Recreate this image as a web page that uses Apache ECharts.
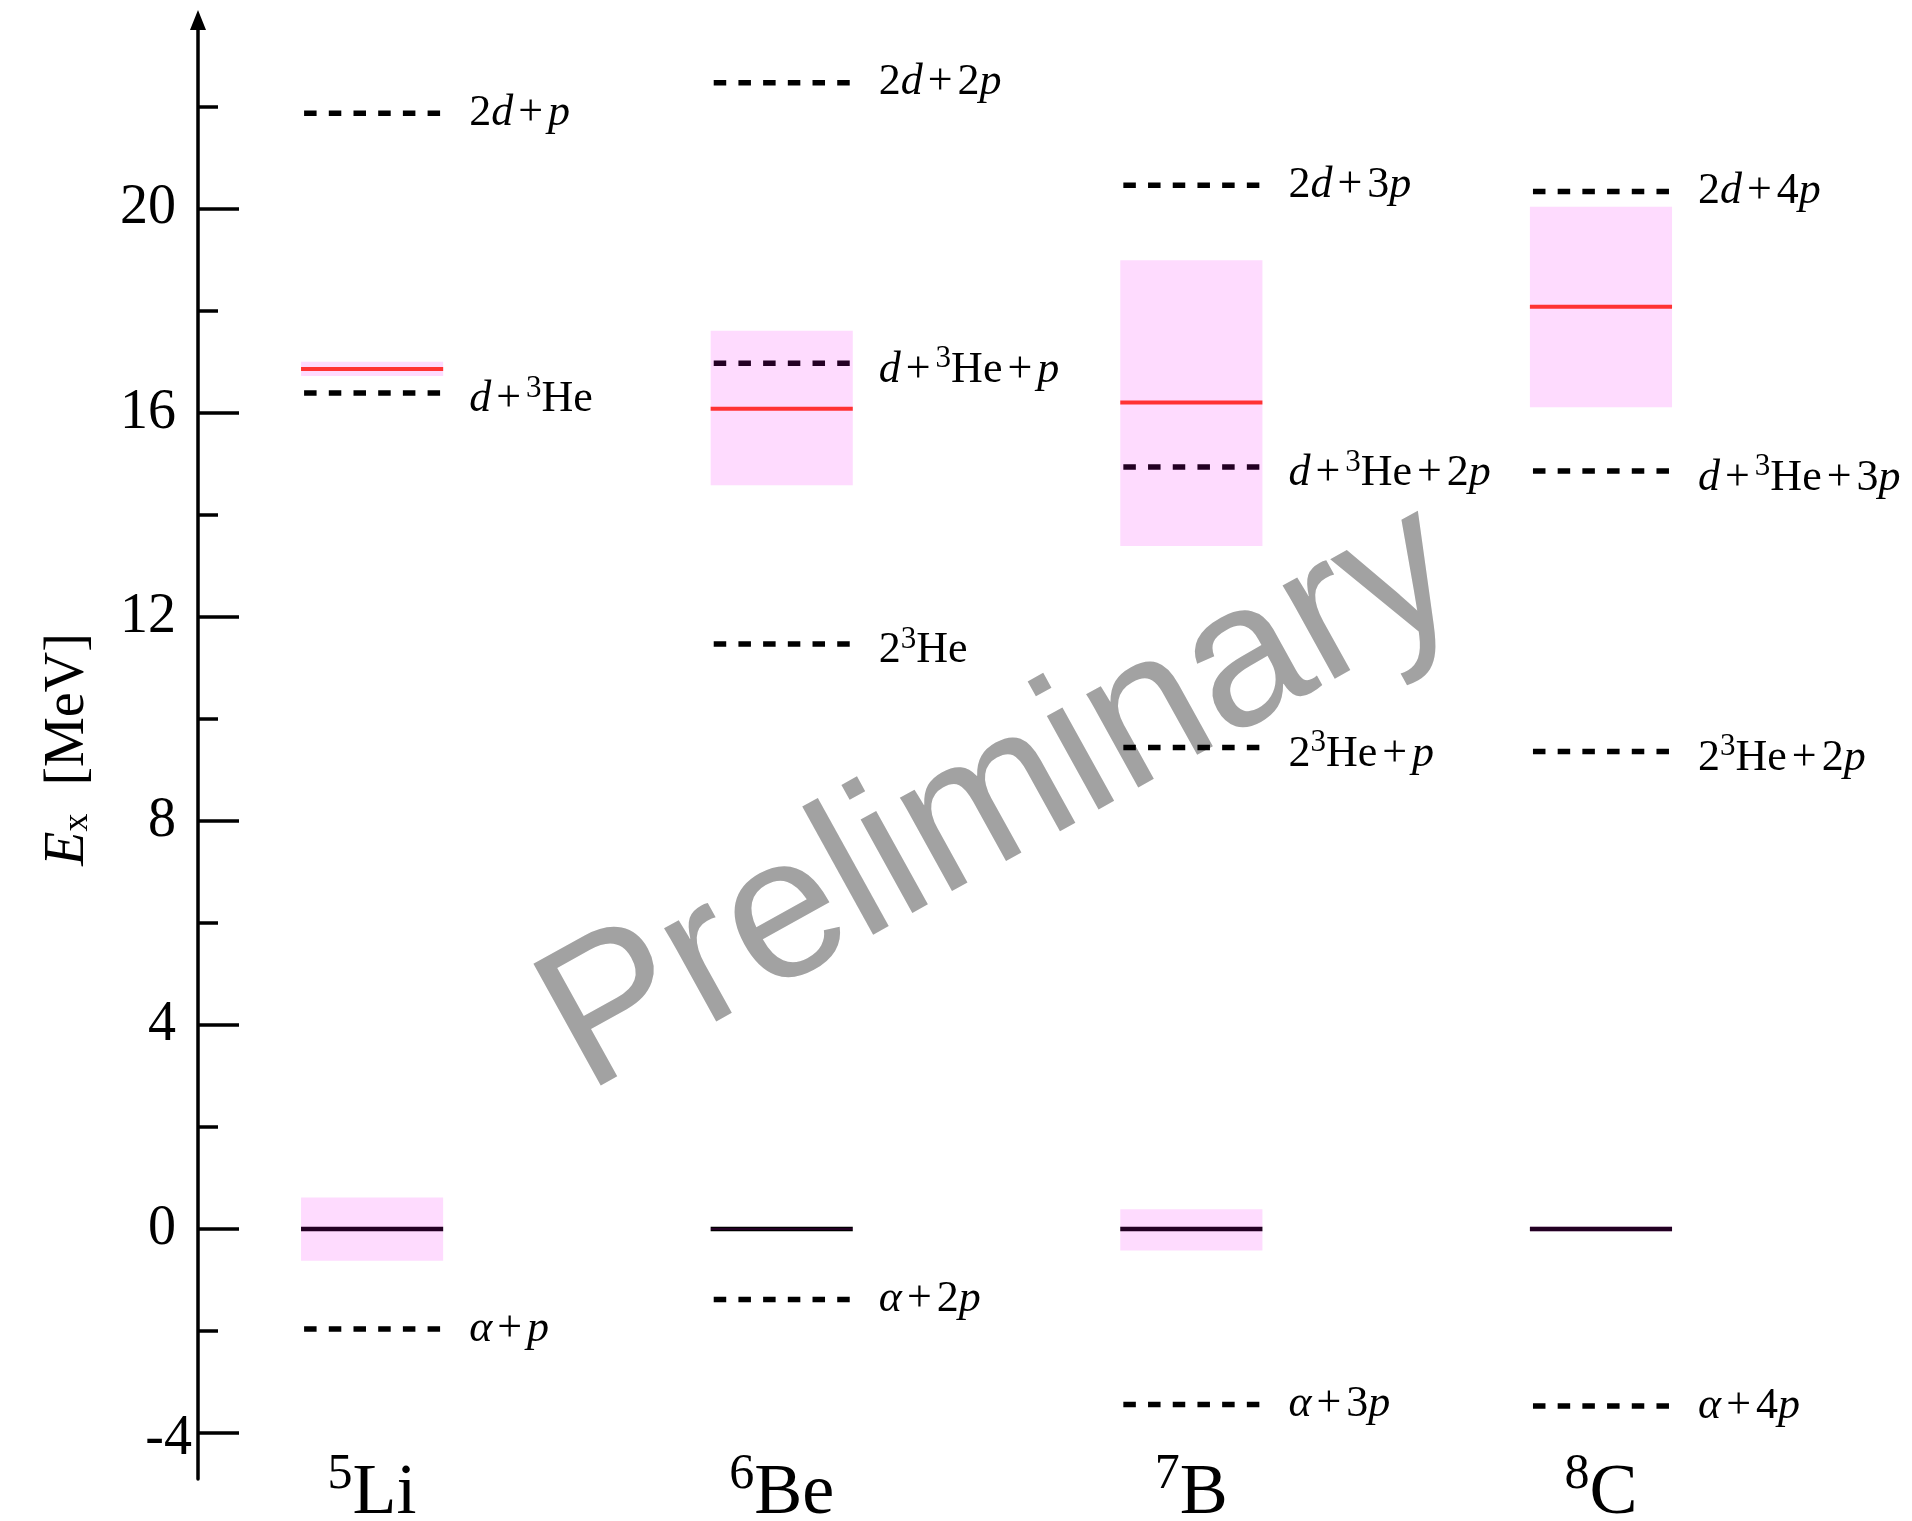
<!DOCTYPE html>
<html>
<head>
<meta charset="utf-8">
<title>Excitation energies of proton-rich nuclei</title>
<script src="https://cdn.jsdelivr.net/npm/echarts@6/dist/echarts.min.js"></script>
<style>
  html, body { margin: 0; padding: 0; background: #ffffff; }
  #chart { width: 1912px; height: 1521px; }
</style>
</head>
<body>
<div id="chart"></div>
<script>
// ---- data -------------------------------------------------------------
const nucleusPosition = [1, 2, 3, 4];
const nucleusMass = ['5', '6', '7', '8'];
const nucleusSymbol = ['Li', 'Be', 'B', 'C'];

// ground states (MeV) with uncertainty band
const groundEnergy = [0, 0, 0, 0];
const groundBandLow = [-0.62, -0.02, -0.42, -0.05];
const groundBandHigh = [0.62, 0.02, 0.39, 0.05];

// excited states (MeV) with uncertainty band
const excitedEnergy = [16.86, 16.08, 16.20, 18.08];
const excitedBandLow = [16.72, 14.58, 13.39, 16.11];
const excitedBandHigh = [17.00, 17.61, 18.99, 20.04];

// breakup thresholds (MeV)
const thresholdNucleus = [1, 1, 1, 2, 2, 2, 2, 3, 3, 3, 3, 4, 4, 4, 4];
const thresholdEnergy = [
  -1.96, 16.39, 21.87,
  -1.38, 11.47, 16.97, 22.47,
  -3.44, 9.44, 14.94, 20.46,
  -3.47, 9.36, 14.86, 20.34
];
const thresholdLabel = [
  '{i|α}{o|+}{i|p}', '{i|d}{o|+}{s|3}{r|He}', '{r|2}{i|d}{o|+}{i|p}',
  '{i|α}{o|+}{r|2}{i|p}', '{r|2}{s|3}{r|He}', '{i|d}{o|+}{s|3}{r|He}{o|+}{i|p}', '{r|2}{i|d}{o|+}{r|2}{i|p}',
  '{i|α}{o|+}{r|3}{i|p}', '{r|2}{s|3}{r|He}{o|+}{i|p}', '{i|d}{o|+}{s|3}{r|He}{o|+}{r|2}{i|p}', '{r|2}{i|d}{o|+}{r|3}{i|p}',
  '{i|α}{o|+}{r|4}{i|p}', '{r|2}{s|3}{r|He}{o|+}{r|2}{i|p}', '{i|d}{o|+}{s|3}{r|He}{o|+}{r|3}{i|p}', '{r|2}{i|d}{o|+}{r|4}{i|p}'
];

// axis ticks
const majorTickValues = [-4, 0, 4, 8, 12, 16, 20];
const majorTickLabels = [0, 4, 8, 12, 16, 20];
const minorTickValues = [-2, 2, 6, 10, 14, 18, 22];
const offsetTickLabels = [-4];

// ---- styling ----------------------------------------------------------
const SERIF = "'Liberation Serif', 'DejaVu Serif', serif";
const LEVEL_HALF = 0.1735;   // half width of a level, x-axis units
const DASH_HALF = 0.166;     // half width of a threshold line
const LABEL_GAP = 26;        // px between a level and its label
const BAND_FILL = 'rgba(250, 0, 250, 0.14)';

const labelRich = {
  i: { fontFamily: SERIF, fontStyle: 'italic', fontSize: 44, fill: '#000', verticalAlign: 'bottom' },
  r: { fontFamily: SERIF, fontSize: 44, fill: '#000', verticalAlign: 'bottom' },
  o: { fontFamily: SERIF, fontSize: 44, fill: '#000', verticalAlign: 'bottom', padding: [0, 5, 0, 5] },
  s: { fontFamily: SERIF, fontSize: 31, fill: '#000', verticalAlign: 'top', padding: [9, 0, 18, 0] }
};

const thresholdData = thresholdEnergy.map((e, k) => [thresholdNucleus[k], e]);
const groundData = nucleusPosition.map((x, k) => [x, groundEnergy[k]]);
const excitedData = nucleusPosition.map((x, k) => [x, excitedEnergy[k]]);
const bandData = nucleusPosition.map((x, k) => [x, groundBandLow[k], groundBandHigh[k]])
  .concat(nucleusPosition.map((x, k) => [x, excitedBandLow[k], excitedBandHigh[k]]));

// a horizontal level line centred on its nucleus column
function levelRenderer(color, width) {
  return (params, api) => {
    const x = api.value(0);
    const e = api.value(1);
    const a = api.coord([x - LEVEL_HALF, e]);
    const b = api.coord([x + LEVEL_HALF, e]);
    return {
      type: 'line',
      shape: { x1: a[0], y1: a[1], x2: b[0], y2: b[1] },
      style: { stroke: color, lineWidth: width }
    };
  };
}

const chart = echarts.init(document.getElementById('chart'), null, { renderer: 'canvas' });

chart.setOption({
  animation: false,
  backgroundColor: '#ffffff',
  grid: { left: 198, right: 12, top: 20, bottom: 42, containLabel: false, outerBoundsMode: 'none' },
  graphic: [{
    type: 'text',
    x: 1001,
    y: 800,
    rotation: 29 * Math.PI / 180,
    z: 0,
    style: {
      text: 'Preliminary',
      fontFamily: "'Liberation Sans', Arial, sans-serif",
      fontSize: 202,
      fill: '#a2a2a2',
      align: 'center',
      verticalAlign: 'middle'
    }
  }],
  xAxis: {
    type: 'value',
    min: 0.575,
    max: 4.73,
    axisLine: { show: false, onZero: false },
    axisTick: { show: false },
    splitLine: { show: false },
    axisLabel: {
      customValues: nucleusPosition,
      margin: -29,
      formatter: v => {
        const k = nucleusPosition.indexOf(v);
        return '{m|' + nucleusMass[k] + '}{e|' + nucleusSymbol[k] + '}';
      },
      rich: {
        m: { fontFamily: SERIF, fontSize: 50, color: '#000', verticalAlign: 'top', padding: [0, 0, 30, 0] },
        e: { fontFamily: SERIF, fontSize: 72, color: '#000', verticalAlign: 'bottom' }
      }
    }
  },
  yAxis: [{
    type: 'value',
    position: 'left',
    min: -4.9,
    max: 23.7,
    axisLine: {
      show: true,
      onZero: false,
      lineStyle: { color: '#000', width: 3.5 },
      symbol: ['none', 'triangle'],
      symbolSize: [16, 20]
    },
    axisTick: {
      show: true,
      inside: true,
      length: 41,
      lineStyle: { color: '#000', width: 3.5 },
      customValues: majorTickValues
    },
    axisLabel: {
      customValues: majorTickLabels,
      margin: 22,
      fontFamily: SERIF,
      fontSize: 56,
      color: '#000'
    },
    splitLine: { show: false },
    name: '{i|E}{b|x}{r|  [MeV]}',
    nameLocation: 'middle',
    nameGap: 102,
    nameTextStyle: {
      fontFamily: SERIF,
      fontSize: 56,
      color: '#000',
      rich: {
        i: { fontFamily: SERIF, fontStyle: 'italic', fontSize: 56, color: '#000' },
        b: { fontFamily: SERIF, fontSize: 36, color: '#000', verticalAlign: 'bottom' },
        r: { fontFamily: SERIF, fontSize: 56, color: '#000' }
      }
    }
  }, {
    type: 'value',
    position: 'left',
    min: -4.9,
    max: 23.7,
    axisLine: { show: false, onZero: false },
    axisTick: {
      show: true,
      inside: true,
      length: 20,
      lineStyle: { color: '#000', width: 3.5 },
      customValues: minorTickValues
    },
    axisLabel: {
      customValues: offsetTickLabels,
      margin: 6,
      formatter: v => '{n|' + v + '}',
      rich: {
        n: { fontFamily: SERIF, fontSize: 56, color: '#000', padding: [12, 0, 0, 0] }
      }
    },
    splitLine: { show: false }
  }],
  series: [{
    // dashed breakup thresholds with their channel labels
    type: 'custom',
    z: 3,
    data: thresholdData,
    encode: { x: 0, y: 1 },
    renderItem: (params, api) => {
      const x = api.value(0);
      const e = api.value(1);
      const a = api.coord([x - DASH_HALF, e]);
      const b = api.coord([x + DASH_HALF, e]);
      const c = api.coord([x + LEVEL_HALF, e]);
      return {
        type: 'group',
        children: [{
          type: 'line',
          shape: { x1: a[0], y1: a[1], x2: b[0], y2: b[1] },
          style: { stroke: '#000', lineWidth: 5.5, lineDash: [12.5, 12.2], lineCap: 'butt' }
        }, {
          type: 'text',
          x: c[0] + LABEL_GAP,
          y: c[1],
          style: {
            text: thresholdLabel[params.dataIndex],
            rich: labelRich,
            fontFamily: SERIF,
            fontSize: 44,
            fill: '#000',
            align: 'left',
            verticalAlign: 'middle'
          }
        }]
      };
    }
  }, {
    // ground states
    type: 'custom',
    z: 3,
    data: groundData,
    encode: { x: 0, y: 1 },
    renderItem: levelRenderer('#000000', 4.5)
  }, {
    // uncertainty bands, translucent over thresholds and ground states
    type: 'custom',
    z: 4,
    data: bandData,
    encode: { x: 0, y: [1, 2] },
    renderItem: (params, api) => {
      const x = api.value(0);
      const lo = api.value(1);
      const hi = api.value(2);
      const tl = api.coord([x - LEVEL_HALF, hi]);
      const br = api.coord([x + LEVEL_HALF, lo]);
      return {
        type: 'rect',
        shape: { x: tl[0], y: tl[1], width: br[0] - tl[0], height: br[1] - tl[1] },
        style: { fill: BAND_FILL }
      };
    }
  }, {
    // excited states
    type: 'custom',
    z: 5,
    data: excitedData,
    encode: { x: 0, y: 1 },
    renderItem: levelRenderer('#ff3333', 4)
  }]
});
</script>
</body>
</html>
